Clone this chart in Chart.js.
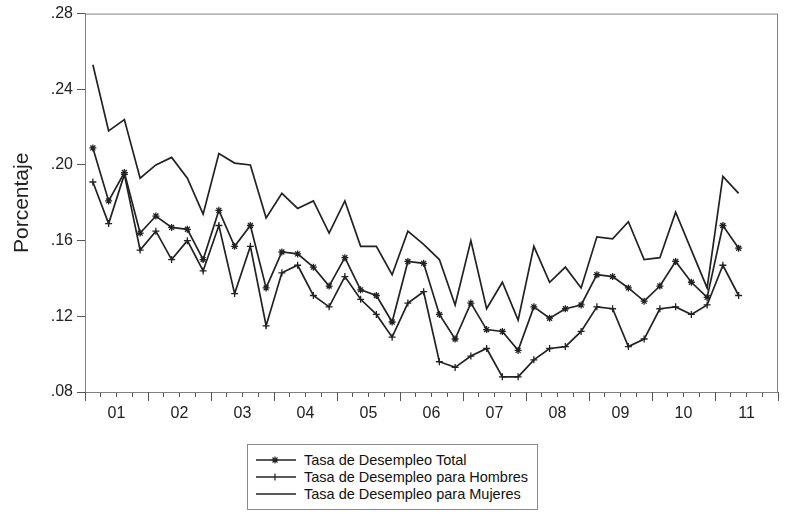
<!DOCTYPE html>
<html lang="es">
<head>
<meta charset="utf-8">
<title>Tasa de Desempleo</title>
<script src="https://cdn.jsdelivr.net/npm/chart.js@4/dist/chart.umd.min.js"></script>
<style>
    body { margin: 0; background: #fff; }
    #contenedor { position: relative; width: 785px; height: 519px; }
    #leyenda {
        position: absolute; left: 247px; top: 444px; width: 291px; height: 66px;
        border: 1px solid #8a8a8a; background: #fff; box-sizing: border-box;
        padding-top: 6px;
        font-family: 'Liberation Sans', Arial, sans-serif; font-size: 14.5px; color: #111;
    }
    #leyenda div { display: flex; align-items: center; height: 17px; }
    #leyenda svg { margin: 0 6px 0 6px; }
</style>
</head>
<body>
<div id="contenedor">
    <canvas id="graficoDesempleo" width="785" height="519"></canvas>
    <div id="leyenda"></div>
</div>
<script>
// Años que se rotulan en el eje X (un año = 4 trimestres)
const anios = ['01', '02', '03', '04', '05', '06', '07', '08', '09', '10', '11'];

// Trimestres con datos: 2001T1 .. 2011T2
const trimestres = [];
for (let a = 2001; a <= 2011; a++) {
    for (let t = 1; t <= 4; t++) {
        if (a === 2011 && t > 2) break;
        trimestres.push(a + 'T' + t);
    }
}

// Valores
const tasaTotal = [0.209, 0.181, 0.196, 0.164, 0.173, 0.167, 0.166, 0.150, 0.176, 0.157, 0.168, 0.135,
    0.154, 0.153, 0.146, 0.136, 0.151, 0.134, 0.131, 0.117, 0.149, 0.148, 0.121, 0.108,
    0.127, 0.113, 0.112, 0.102, 0.125, 0.119, 0.124, 0.126, 0.142, 0.141, 0.135, 0.128,
    0.136, 0.149, 0.138, 0.130, 0.168, 0.156];
const tasaHombres = [0.191, 0.169, 0.195, 0.155, 0.165, 0.150, 0.160, 0.144, 0.168, 0.132, 0.157, 0.115,
    0.143, 0.147, 0.131, 0.125, 0.141, 0.129, 0.121, 0.109, 0.127, 0.133, 0.096, 0.093,
    0.099, 0.103, 0.088, 0.088, 0.097, 0.103, 0.104, 0.112, 0.125, 0.124, 0.104, 0.108,
    0.124, 0.125, 0.121, 0.126, 0.147, 0.131];
const tasaMujeres = [0.253, 0.218, 0.224, 0.193, 0.200, 0.204, 0.193, 0.174, 0.206, 0.201, 0.200, 0.172,
    0.185, 0.177, 0.181, 0.164, 0.181, 0.157, 0.157, 0.142, 0.165, 0.158, 0.150, 0.126,
    0.160, 0.124, 0.138, 0.118, 0.157, 0.138, 0.146, 0.135, 0.162, 0.161, 0.170, 0.150,
    0.151, 0.175, 0.155, 0.135, 0.194, 0.185];

const etiquetasSeries = ['Tasa de Desempleo Total', 'Tasa de Desempleo para Hombres', 'Tasa de Desempleo para Mujeres'];
const estilosPunto = ['star', 'cross', false];

const colorLinea = '#222';
const colorMarco = '#808080';
const fuente = "'Liberation Sans', Arial, sans-serif";

// Cada trimestre se dibuja en el centro de su intervalo (índice + 0.5)
const aPuntos = (serie) => serie.map((v, i) => ({ x: i + 0.5, y: v }));

const crearSerie = (etiqueta, valores, estilo) => ({
    label: etiqueta,
    data: aPuntos(valores),
    borderColor: colorLinea,
    backgroundColor: colorLinea,
    borderWidth: 1.7,
    pointStyle: estilo,
    pointRadius: estilo ? 3.5 : 0,
    pointBorderWidth: 1.3,
    tension: 0
});

// Marco del área de trazado y marcas largas de cada año
const marcoPlugin = {
    id: 'marco',
    afterDraw(chart) {
        const { ctx, chartArea: a, scales: { x } } = chart;
        ctx.save();
        ctx.strokeStyle = colorMarco;
        ctx.lineWidth = 1;
        ctx.strokeRect(a.left + 0.5, a.top + 0.5, a.right - a.left - 1, a.bottom - a.top);
        ctx.strokeStyle = '#555';
        for (let k = 0; k <= anios.length; k++) {
            const px = Math.round(x.getPixelForValue(k * 4)) + 0.5;
            ctx.beginPath();
            ctx.moveTo(px, a.bottom);
            ctx.lineTo(px, a.bottom + 9);
            ctx.stroke();
        }
        ctx.restore();
    }
};

// Leyenda en HTML a partir de las series del gráfico
const leyendaPlugin = {
    id: 'leyendaHtml',
    afterUpdate(chart) {
        const cont = document.getElementById('leyenda');
        cont.innerHTML = '';
        chart.data.datasets.forEach((ds) => {
            let marca = '';
            if (ds.pointStyle === 'star') {
                marca = '<path d="M21 1.5 L21 8.5 M17.5 5 L24.5 5 M18.5 2.5 L23.5 7.5 M23.5 2.5 L18.5 7.5" stroke="#222" stroke-width="1.2"/>';
            } else if (ds.pointStyle === 'cross') {
                marca = '<path d="M21 1.5 L21 8.5" stroke="#222" stroke-width="1.2"/>';
            }
            const fila = document.createElement('div');
            fila.innerHTML = '<svg width="44" height="10"><line x1="2" y1="5" x2="42" y2="5" stroke="#222" stroke-width="1.4"/>' +
                marca + '</svg><span>' + ds.label + '</span>';
            cont.appendChild(fila);
        });
    }
};

const ctx = document.getElementById('graficoDesempleo').getContext('2d');
new Chart(ctx, {
    type: 'line',
    data: {
        datasets: [
            crearSerie(etiquetasSeries[0], tasaTotal, estilosPunto[0]),
            crearSerie(etiquetasSeries[1], tasaHombres, estilosPunto[1]),
            crearSerie(etiquetasSeries[2], tasaMujeres, estilosPunto[2])
        ]
    },
    options: {
        responsive: false,
        animation: false,
        layout: { padding: { top: 11, right: 4, left: 0, bottom: 0 } },
        plugins: {
            legend: { display: false },
            tooltip: { enabled: false }
        },
        scales: {
            x: {
                type: 'linear',
                min: 0,
                max: anios.length * 4,
                afterFit: (scale) => { scale.height = 127; },
                border: { display: true, color: colorMarco },
                grid: { drawOnChartArea: false, tickLength: 5, color: '#555' },
                ticks: {
                    stepSize: 1,
                    autoSkip: false,
                    maxRotation: 0,
                    padding: 7,
                    color: '#222',
                    font: { family: fuente, size: 16 },
                    // El rótulo del año va en la mitad de sus cuatro trimestres
                    callback: (v) => (v % 4 === 2 ? anios[(v - 2) / 4] : '')
                }
            },
            y: {
                min: 0.08,
                max: 0.28,
                afterFit: (scale) => { scale.width = 85; },
                border: { display: true, color: colorMarco },
                grid: { drawOnChartArea: false, tickLength: 8, color: '#555' },
                ticks: {
                    stepSize: 0.04,
                    padding: 4,
                    color: '#222',
                    font: { family: fuente, size: 16 },
                    callback: (v) => v.toFixed(2).replace(/^0/, '')
                },
                title: {
                    display: true,
                    text: 'Porcentaje',
                    color: '#222',
                    font: { family: fuente, size: 21 },
                    padding: { top: 10, bottom: 0 }
                }
            }
        }
    },
    plugins: [marcoPlugin, leyendaPlugin]
});
</script>
</body>
</html>
